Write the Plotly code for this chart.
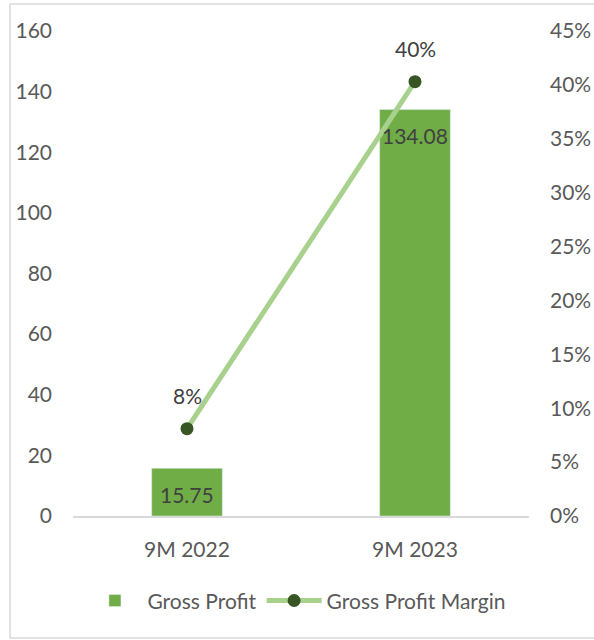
import plotly.graph_objects as go

categories = ["9M 2022", "9M 2023"]
gross_profit = [15.75, 134.08]
gross_margin = [0.081, 0.403]
profit_labels = ["15.75", "134.08"]
margin_labels = ["8%", "40%"]
left_ticks = [0, 20, 40, 60, 80, 100, 120, 140, 160]
right_ticks = [0, 0.05, 0.10, 0.15, 0.20, 0.25, 0.30, 0.35, 0.40, 0.45]
right_tick_text = ["0%", "5%", "10%", "15%", "20%", "25%", "30%", "35%", "40%", "45%"]

FONT = "Lato"
GRAY = "#595959"
FS = 21

fig = go.Figure()
fig.add_trace(go.Bar(
    x=categories, y=gross_profit, name="Gross Profit",
    marker=dict(color="#70AD47"), width=0.31, yaxis="y",
))
fig.add_trace(go.Scatter(
    x=categories, y=gross_margin, name="Gross Profit Margin",
    mode="lines+markers", yaxis="y2",
    line=dict(color="#A9D18E", width=5),
    marker=dict(color="#375623", size=13),
))

annotations = []
for c, v, t in zip(categories, gross_profit, profit_labels):
    annotations.append(dict(x=c, y=v, xref="x", yref="y", text=t, showarrow=False,
                            yshift=-26, font=dict(family=FONT, size=FS, color="#404040")))
for c, v, t in zip(categories, gross_margin, margin_labels):
    annotations.append(dict(x=c, y=v, xref="x", yref="y2", text=t, showarrow=False,
                            yshift=33, font=dict(family=FONT, size=FS, color="#404040")))

fig.update_layout(
    width=594, height=640,
    margin=dict(l=73, r=65, t=31, b=124),
    paper_bgcolor="white", plot_bgcolor="white",
    font=dict(family=FONT, size=FS, color=GRAY),
    showlegend=True,
    legend=dict(orientation="h", x=0.49, xanchor="center", y=-0.175, yanchor="middle",
                itemwidth=55,
                font=dict(family=FONT, size=FS, color=GRAY)),
    xaxis=dict(showgrid=False, showline=True, linecolor="#D9D9D9", linewidth=1.5,
               ticks="", tickfont=dict(size=FS, color=GRAY), zeroline=False,
               ticklabelstandoff=14, automargin=False),
    yaxis=dict(range=[0, 160], tickvals=left_ticks, showgrid=False, zeroline=False,
               showline=False, ticks="", tickfont=dict(size=FS, color=GRAY),
               ticklabelstandoff=20, automargin=False),
    yaxis2=dict(range=[0, 0.45], tickvals=right_ticks, ticktext=right_tick_text,
                overlaying="y", side="right", showgrid=False, zeroline=False,
                showline=False, ticks="", tickfont=dict(size=FS, color=GRAY),
                ticklabelstandoff=20, automargin=False),
    annotations=annotations,
    shapes=[dict(type="rect", xref="paper", yref="paper",
                 x0=(10 - 73) / 456, x1=(600 - 73) / 456,
                 y0=(516 - 638) / 485, y1=(516 - 4) / 485,
                 line=dict(color="#D9D9D9", width=1.5), fillcolor="rgba(0,0,0,0)",
                 layer="below")],
)

fig.write_html("out.html", config={"displayModeBar": False},
               post_script="document.body.style.margin='0';")
